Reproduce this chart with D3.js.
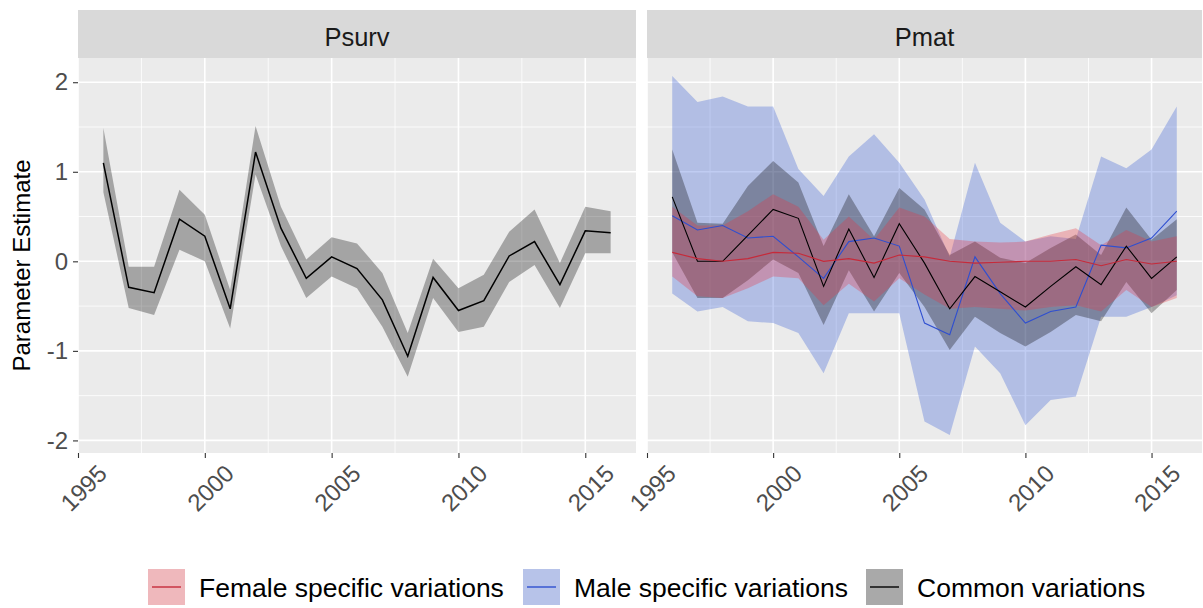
<!DOCTYPE html>
<html>
<head>
<meta charset="utf-8">
<script src="https://cdn.jsdelivr.net/npm/d3@7"></script>
<style>
  html, body { margin: 0; padding: 0; background: #ffffff; }
  svg { display: block; }
  text { font-family: "Liberation Sans", Arial, sans-serif; }
</style>
</head>
<body>
<svg id="chart" width="1203" height="608"></svg>
<script>
// Years of the time series
const years = [1996, 1997, 1998, 1999, 2000, 2001, 2002, 2003, 2004, 2005, 2006,
               2007, 2008, 2009, 2010, 2011, 2012, 2013, 2014, 2015, 2016];

// Psurv: common variations (estimate and interval)
const psurvEst  = [1.10, -0.29, -0.35, 0.47, 0.28, -0.53, 1.22, 0.37, -0.19, 0.05, -0.08,
                   -0.43, -1.06, -0.18, -0.55, -0.44, 0.06, 0.22, -0.26, 0.34, 0.32];
const psurvLow  = [0.77, -0.52, -0.60, 0.13, 0.00, -0.75, 0.97, 0.17, -0.41, -0.17, -0.30,
                   -0.73, -1.29, -0.41, -0.79, -0.73, -0.23, -0.04, -0.52, 0.09, 0.09];
const psurvHigh = [1.49, -0.06, -0.06, 0.80, 0.52, -0.32, 1.51, 0.61, 0.02, 0.27, 0.20,
                   -0.13, -0.80, 0.03, -0.30, -0.15, 0.33, 0.58, -0.02, 0.61, 0.56];

// Pmat: female specific variations
const femaleEst  = [0.10, 0.03, 0.00, 0.03, 0.10, 0.09, 0.00, 0.03, -0.02, 0.07, 0.05,
                    0.00, -0.02, -0.01, 0.00, 0.00, 0.02, -0.05, 0.02, -0.03, 0.00];
const femaleLow  = [-0.17, -0.39, -0.41, -0.30, -0.17, -0.19, -0.49, -0.25, -0.45, -0.19, -0.37,
                    -0.53, -0.51, -0.53, -0.55, -0.51, -0.49, -0.56, -0.32, -0.51, -0.41];
const femaleHigh = [0.61, 0.40, 0.40, 0.56, 0.75, 0.61, 0.24, 0.50, 0.24, 0.60, 0.50,
                    0.25, 0.22, 0.21, 0.22, 0.30, 0.37, 0.18, 0.35, 0.22, 0.28];

// Pmat: male specific variations
const maleEst  = [0.51, 0.35, 0.40, 0.26, 0.28, 0.05, -0.19, 0.22, 0.26, 0.17, -0.69,
                  -0.82, 0.05, -0.36, -0.69, -0.56, -0.51, 0.18, 0.15, 0.26, 0.56];
const maleLow  = [-0.36, -0.56, -0.51, -0.67, -0.69, -0.80, -1.25, -0.58, -0.58, -0.58, -1.79,
                  -1.94, -0.95, -1.25, -1.83, -1.55, -1.51, -0.62, -0.62, -0.51, -0.38];
const maleHigh = [2.07, 1.78, 1.84, 1.73, 1.73, 1.03, 0.73, 1.17, 1.42, 1.10, 0.69,
                  0.05, 1.10, 0.43, 0.22, 0.28, 0.25, 1.17, 1.04, 1.25, 1.73];

// Pmat: common variations
const commonEst  = [0.72, 0.00, 0.00, 0.29, 0.58, 0.48, -0.28, 0.36, -0.18, 0.42, -0.02,
                    -0.53, -0.17, -0.34, -0.51, -0.28, -0.06, -0.26, 0.17, -0.19, 0.05];
const commonLow  = [0.10, -0.41, -0.41, -0.21, 0.02, -0.13, -0.71, -0.10, -0.56, -0.13, -0.51,
                    -0.99, -0.62, -0.80, -0.95, -0.79, -0.60, -0.67, -0.23, -0.58, -0.32];
const commonHigh = [1.25, 0.43, 0.42, 0.84, 1.12, 0.88, 0.17, 0.75, 0.28, 0.82, 0.58,
                    0.07, 0.22, 0.04, -0.02, 0.15, 0.30, 0.07, 0.60, 0.24, 0.47];

// Axis breaks and labels
const xTicks = [1995, 2000, 2005, 2010, 2015];
const yTicks = [-2, -1, 0, 1, 2];
const panelNames = ["Psurv", "Pmat"];
const legendLabels = ["Female specific variations", "Male specific variations", "Common variations"];

const seriesColor = {
  female: "#e8323f",
  male: "#2f55d4",
  common: "#000000"
};
const lineColor = {
  female: "#c62a3a",
  male: "#2f4fd0",
  common: "#000000"
};
const bandAlpha = 0.3;

function rows(est, low, high) {
  return years.map((y, i) => ({ year: y, est: est[i], low: low[i], high: high[i] }));
}

const panels = [
  {
    name: panelNames[0],
    series: [{ key: "common", data: rows(psurvEst, psurvLow, psurvHigh) }]
  },
  {
    name: panelNames[1],
    series: [
      { key: "male", data: rows(maleEst, maleLow, maleHigh) },
      { key: "common", data: rows(commonEst, commonLow, commonHigh) },
      { key: "female", data: rows(femaleEst, femaleLow, femaleHigh) }
    ]
  }
];

// Shared y range with 5% padding over all intervals
const allVals = [psurvLow, psurvHigh, femaleLow, femaleHigh, maleLow, maleHigh, commonLow, commonHigh].flat();
const [yMin, yMax] = d3.extent(allVals);
const yPad = (yMax - yMin) * 0.05;
const xExt = d3.extent(years);
const xPad = (xExt[1] - xExt[0]) * 0.05;

const svg = d3.select("#chart");
const font = "'Liberation Sans', Arial, sans-serif";
const plainNum = d => String(d);   // ASCII hyphen for negatives

const panelTop = 58, panelBottom = 453;
const stripTop = 10;
const panelX = [[78, 636], [647, 1202]];

const y = d3.scaleLinear().domain([yMin - yPad, yMax + yPad]).range([panelBottom, panelTop]);

panels.forEach((p, pi) => {
  const [px0, px1] = panelX[pi];
  const x = d3.scaleLinear().domain([xExt[0] - xPad, xExt[1] + xPad]).range([px0, px1]);
  const g = svg.append("g");

  // strip
  g.append("rect").attr("x", px0).attr("y", stripTop).attr("width", px1 - px0)
    .attr("height", panelTop - stripTop).attr("fill", "#d9d9d9");
  g.append("text").attr("x", (px0 + px1) / 2).attr("y", 46)
    .attr("text-anchor", "middle").attr("font-size", 25.5).attr("fill", "#1a1a1a").text(p.name);

  // panel background
  g.append("rect").attr("x", px0).attr("y", panelTop).attr("width", px1 - px0)
    .attr("height", panelBottom - panelTop).attr("fill", "#ebebeb");

  // minor grid
  const xd = x.domain(), yd = y.domain();
  const xMinor = xTicks.slice(0, -1).map(t => t + 2.5).filter(t => t > xd[0] && t < xd[1]);
  const yMinor = yTicks.slice(0, -1).map(t => t + 0.5).filter(t => t > yd[0] && t < yd[1]);
  g.append("g").selectAll("line").data(yMinor).join("line")
    .attr("x1", px0).attr("x2", px1).attr("y1", d => y(d)).attr("y2", d => y(d))
    .attr("stroke", "#ffffff").attr("stroke-width", 0.8);
  g.append("g").selectAll("line").data(xMinor).join("line")
    .attr("y1", panelTop).attr("y2", panelBottom).attr("x1", d => x(d)).attr("x2", d => x(d))
    .attr("stroke", "#ffffff").attr("stroke-width", 0.8);
  // major grid
  g.append("g").selectAll("line").data(yTicks).join("line")
    .attr("x1", px0).attr("x2", px1).attr("y1", d => y(d)).attr("y2", d => y(d))
    .attr("stroke", "#ffffff").attr("stroke-width", 1.6);
  g.append("g").selectAll("line").data(xTicks).join("line")
    .attr("y1", panelTop).attr("y2", panelBottom).attr("x1", d => x(d)).attr("x2", d => x(d))
    .attr("stroke", "#ffffff").attr("stroke-width", 1.6);

  // ribbons
  const area = d3.area().x(d => x(d.year)).y0(d => y(d.low)).y1(d => y(d.high));
  p.series.forEach(s => {
    g.append("path").datum(s.data).attr("d", area)
      .attr("fill", seriesColor[s.key]).attr("fill-opacity", bandAlpha);
  });
  // lines
  const line = d3.line().x(d => x(d.year)).y(d => y(d.est));
  p.series.forEach(s => {
    g.append("path").datum(s.data).attr("d", line)
      .attr("fill", "none").attr("stroke", lineColor[s.key])
      .attr("stroke-width", pi === 0 ? 1.5 : 1.1);
  });

  // x axis
  const xAxis = d3.axisBottom(x).tickValues(xTicks).tickSize(5).tickPadding(0).tickFormat(plainNum);
  const ax = g.append("g").attr("transform", `translate(0,${panelBottom})`).call(xAxis);
  ax.select(".domain").remove();
  ax.selectAll(".tick line").attr("stroke", "#333333").attr("stroke-width", 1.1);
  ax.selectAll(".tick text")
    .attr("font-family", font).attr("font-size", 24).attr("fill", "#4d4d4d")
    .attr("text-anchor", "end").attr("dy", null).attr("y", null)
    .attr("transform", "translate(30,22) rotate(-45)");

  // y axis on first panel only
  if (pi === 0) {
    const yAxis = d3.axisLeft(y).tickValues(yTicks).tickSize(5).tickPadding(5).tickFormat(plainNum);
    const ay = g.append("g").attr("transform", `translate(${px0},0)`).call(yAxis);
    ay.select(".domain").remove();
    ay.selectAll(".tick line").attr("stroke", "#333333").attr("stroke-width", 1.1);
    ay.selectAll(".tick text").attr("font-family", font).attr("font-size", 24).attr("fill", "#4d4d4d");
  }
});

// y axis title
svg.append("text")
  .attr("transform", `translate(30,${(panelTop + panelBottom) / 2 + 10}) rotate(-90)`)
  .attr("text-anchor", "middle").attr("font-size", 24).attr("fill", "#000000")
  .text("Parameter Estimate");

// legend
const legendKeys = ["female", "male", "common"];
const keyX = [148, 523, 866];
const keyY = 569, keyW = 37, keyH = 36;
const lg = svg.append("g");
legendKeys.forEach((k, i) => {
  lg.append("rect").attr("x", keyX[i]).attr("y", keyY).attr("width", keyW).attr("height", keyH)
    .attr("fill", "#f2f2f2");
  lg.append("rect").attr("x", keyX[i]).attr("y", keyY).attr("width", keyW).attr("height", keyH)
    .attr("fill", seriesColor[k]).attr("fill-opacity", bandAlpha);
  lg.append("line").attr("x1", keyX[i] + 4).attr("x2", keyX[i] + keyW - 4)
    .attr("y1", keyY + keyH / 2).attr("y2", keyY + keyH / 2)
    .attr("stroke", lineColor[k]).attr("stroke-width", 1.4);
  lg.append("text").attr("x", keyX[i] + keyW + 14).attr("y", keyY + keyH / 2 + 9.5)
    .attr("font-size", 26.5).attr("fill", "#000000").text(legendLabels[i]);
});
</script>
</body>
</html>
